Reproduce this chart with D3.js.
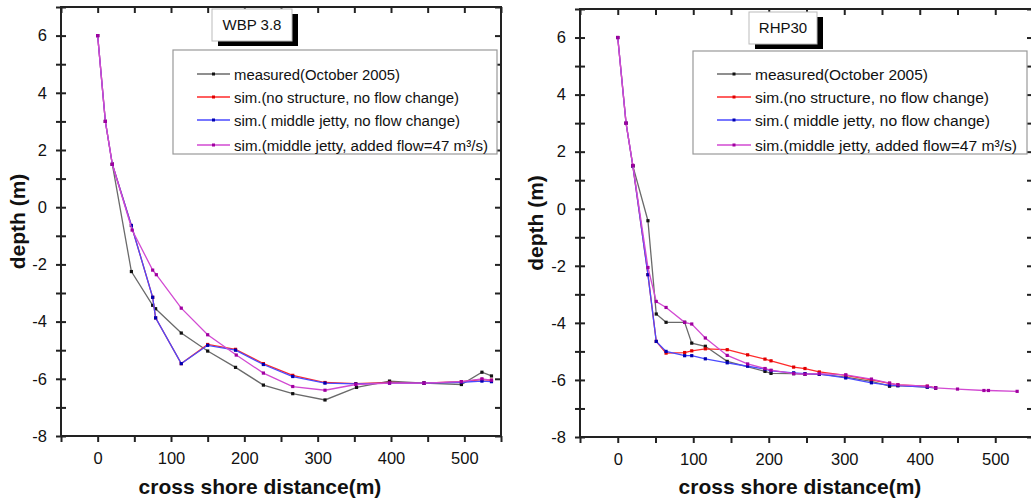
<!DOCTYPE html>
<html>
<head>
<meta charset="utf-8">
<script src="https://cdn.jsdelivr.net/npm/d3@7"></script>
<style>
  body { margin: 0; background: #fff; }
  svg text { font-family: "Liberation Sans", Arial, sans-serif; }
</style>
</head>
<body>
<svg id="chart" width="1031" height="500"></svg>
<script>
// series labels (same for both panels)
var seriesNames = [
  "measured(October 2005)",
  "sim.(no structure, no flow change)",
  "sim.( middle jetty, no flow change)",
  "sim.(middle jetty, added flow=47 m\u00b3/s)"
];
var panelTitles = ["WBP 3.8", "RHP30"];

// WBP 3.8  -- [distance, depth]
var wbpMeasured = [[20,1.5],[46,-2.25],[75,-3.43],[79,-3.55],[114,-4.4],[150,-5.03],[188,-5.6],[226,-6.22],[266,-6.52],[310,-6.74],[353,-6.3],[398,-6.08],[445,-6.15],[496,-6.2],[524,-5.77],[537,-5.9]];
var wbpNoStruct = [[0,6],[10.5,3],[20,1.5],[46,-0.64],[75,-3.15],[79,-3.87],[114,-5.47],[150,-4.8],[188,-4.97],[226,-5.47],[266,-5.88],[310,-6.13],[352,-6.17],[398,-6.13],[445,-6.15],[496,-6.1],[524,-6.03],[537,-6.05]];
var wbpJetty = [[0,6],[10.5,3],[20,1.5],[46,-0.64],[75,-3.15],[79,-3.87],[114,-5.47],[150,-4.83],[188,-5.0],[226,-5.5],[266,-5.92],[310,-6.15],[352,-6.18],[398,-6.15],[445,-6.15],[496,-6.12],[524,-6.08],[537,-6.1]];
var wbpFlow = [[0,6],[10.5,3],[20,1.5],[47,-0.8],[75,-2.2],[80,-2.36],[114,-3.53],[150,-4.46],[189,-5.17],[226,-5.8],[266,-6.27],[310,-6.4],[352,-6.2],[398,-6.15],[445,-6.15],[496,-6.1],[524,-6.0],[537,-6.05]];

// RHP30 -- [distance, depth]
var rhpMeasured = [[20,1.5],[40,-0.42],[51,-3.69],[64,-3.98],[88.6,-3.98],[98,-4.71],[116,-4.82],[145,-5.35],[195,-5.7],[203,-5.77],[233,-5.78],[248,-5.8],[267,-5.8],[302,-5.9],[336,-6.05],[360,-6.22],[371,-6.2],[410,-6.25],[421,-6.28]];
var rhpNoStruct = [[0,6],[11,3],[20,1.5],[40,-2.31],[51,-4.65],[64,-5.06],[88.6,-5.04],[98,-4.98],[116,-4.91],[145,-4.94],[172,-5.12],[195,-5.27],[203,-5.33],[233,-5.55],[248,-5.6],[267,-5.72],[302,-5.84],[336,-6.0],[360,-6.12],[371,-6.17],[410,-6.22],[421,-6.28]];
var rhpJetty = [[0,6],[11,3],[20,1.5],[40,-2.31],[51,-4.65],[64,-5.0],[88.6,-5.15],[98,-5.15],[116,-5.26],[145,-5.4],[172,-5.52],[195,-5.62],[203,-5.68],[233,-5.75],[248,-5.78],[267,-5.8],[302,-5.93],[336,-6.1],[360,-6.18],[371,-6.2],[410,-6.25],[421,-6.28]];
var rhpFlow = [[0,6],[11,3],[20,1.52],[40,-2.06],[51,-3.25],[64,-3.46],[88.6,-3.98],[98,-4.04],[116,-4.53],[145,-5.14],[172,-5.44],[195,-5.6],[203,-5.66],[233,-5.78],[248,-5.8],[267,-5.78],[302,-5.82],[336,-5.97],[360,-6.11],[371,-6.17],[410,-6.22],[421,-6.28],[450,-6.32],[485,-6.37],[491,-6.37],[529,-6.4]];

var xTicks = d3.range(-50, 551, 50);
var yTicks = d3.range(-8, 8, 1);

var lineColors = ["#6a6a6a", "#ff2a2a", "#4a4aff", "#d24ad2"];
var dotColors = ["#111", "#e00000", "#0000b0", "#a000a0"];

var svg = d3.select("#chart");

function drawPanel(opt, series) {
  var x = d3.scaleLinear().domain([-50, 550]).range([opt.left, opt.right]),
      y = d3.scaleLinear().domain([-8, 7]).range([opt.bottom, opt.top]);

  var g = svg.append("g");

  // plot frame
  g.append("rect")
    .attr("x", opt.left).attr("y", opt.top)
    .attr("width", opt.right - opt.left).attr("height", opt.bottom - opt.top)
    .attr("fill", "none").attr("stroke", "#222").attr("stroke-width", 2);

  // axes
  var bottom = g.append("g").attr("transform", "translate(0," + opt.bottom + ")")
    .call(d3.axisBottom(x).tickValues(xTicks).tickSize(6).tickPadding(10)
      .tickFormat(function (d) { return (d >= 0 && d % 100 == 0) ? d : ""; }));
  var top = g.append("g").attr("transform", "translate(0," + opt.top + ")")
    .call(d3.axisTop(x).tickValues(xTicks).tickSize(-6).tickFormat(""));
  var left = g.append("g").attr("transform", "translate(" + opt.left + ",0)")
    .call(d3.axisLeft(y).tickValues(yTicks).tickSize(5).tickPadding(9)
      .tickFormat(function (d) { return (d % 2 == 0) ? d : ""; }));
  var right = g.append("g").attr("transform", "translate(" + opt.right + ",0)")
    .call(d3.axisRight(y).tickValues(yTicks).tickSize(-6).tickFormat(""));

  [bottom, top, left, right].forEach(function (a) {
    a.select(".domain").remove();
    a.selectAll(".tick line").attr("stroke", "#222").attr("stroke-width", 2);
    a.selectAll("text").attr("font-size", 16.5).attr("fill", "#111")
      .style("font-family", "Liberation Sans, Arial, sans-serif");
  });
  // left ticks cross the axis line
  left.selectAll(".tick line").attr("x1", 5).attr("x2", -5);

  // series lines and dots
  var line = d3.line().x(function (d) { return x(d[0]); }).y(function (d) { return y(d[1]); });
  series.forEach(function (s, i) {
    g.append("path").datum(s)
      .attr("d", line).attr("fill", "none")
      .attr("stroke", lineColors[i]).attr("stroke-width", 1.3);
    g.selectAll(".dot" + i).data(s).enter().append("rect")
      .attr("x", function (d) { return x(d[0]) - 1.6; })
      .attr("y", function (d) { return y(d[1]) - 1.6; })
      .attr("width", 3.2).attr("height", 3.2)
      .attr("fill", dotColors[i]);
  });

  // title box with drop shadow
  var tb = opt.titleBox;
  g.append("rect").attr("x", tb[0] + 6).attr("y", tb[1] + 5)
    .attr("width", tb[2]).attr("height", tb[3]).attr("fill", "#000");
  g.append("rect").attr("x", tb[0]).attr("y", tb[1])
    .attr("width", tb[2]).attr("height", tb[3])
    .attr("fill", "#fff").attr("stroke", "#bbb").attr("stroke-width", 1);
  g.append("text").attr("x", tb[0] + tb[2] / 2).attr("y", tb[1] + tb[3] / 2 + 5)
    .attr("text-anchor", "middle").attr("font-size", 15).attr("fill", "#111")
    .text(opt.title);

  // legend
  var lb = opt.legendBox;
  g.append("rect").attr("x", lb[0]).attr("y", lb[1])
    .attr("width", lb[2]).attr("height", lb[3])
    .attr("fill", "#fff").attr("stroke", "#999").attr("stroke-width", 1.2);
  var rowsY = [74, 97, 120, 145];
  seriesNames.forEach(function (name, i) {
    var ry = rowsY[i];
    g.append("line").attr("x1", opt.legLine[0]).attr("x2", opt.legLine[1])
      .attr("y1", ry).attr("y2", ry)
      .attr("stroke", lineColors[i]).attr("stroke-width", 1.3);
    g.append("rect").attr("x", (opt.legLine[0] + opt.legLine[1]) / 2 - 1.5).attr("y", ry - 1.5)
      .attr("width", 3).attr("height", 3).attr("fill", dotColors[i]);
    g.append("text").attr("x", opt.legLine[1] + 4).attr("y", ry + 5.5)
      .attr("font-size", 15.5).attr("fill", "#111")
      .attr("textLength", opt.legTextLen[i]).attr("lengthAdjust", "spacingAndGlyphs")
      .text(name);
  });

  // axis titles
  g.append("text")
    .attr("transform", "translate(" + opt.yLabelX + "," + ((opt.top + opt.bottom) / 2) + ") rotate(-90)")
    .attr("text-anchor", "middle").attr("font-size", 21).attr("font-weight", "bold")
    .attr("fill", "#111").text("depth (m)");
  g.append("text").attr("x", opt.xLabelX).attr("y", 494)
    .attr("text-anchor", "middle").attr("font-size", 21).attr("font-weight", "bold")
    .attr("fill", "#111").text("cross shore distance(m)");
}

drawPanel({
  left: 61, right: 501, top: 7, bottom: 436,
  title: panelTitles[0], titleBox: [212, 9, 80, 32],
  legendBox: [173, 50, 324, 104], legLine: [197, 230],
  legTextLen: [166, 225, 226, 254],
  yLabelX: 25, xLabelX: 260
}, [wbpMeasured, wbpNoStruct, wbpJetty, wbpFlow]);

drawPanel({
  left: 580, right: 1033, top: 9, bottom: 437,
  title: panelTitles[1], titleBox: [749, 12, 68, 32],
  legendBox: [693, 51, 334, 103], legLine: [717, 751],
  legTextLen: [173, 234, 235, 262],
  yLabelX: 543, xLabelX: 800
}, [rhpMeasured, rhpNoStruct, rhpJetty, rhpFlow]);
</script>
</body>
</html>
